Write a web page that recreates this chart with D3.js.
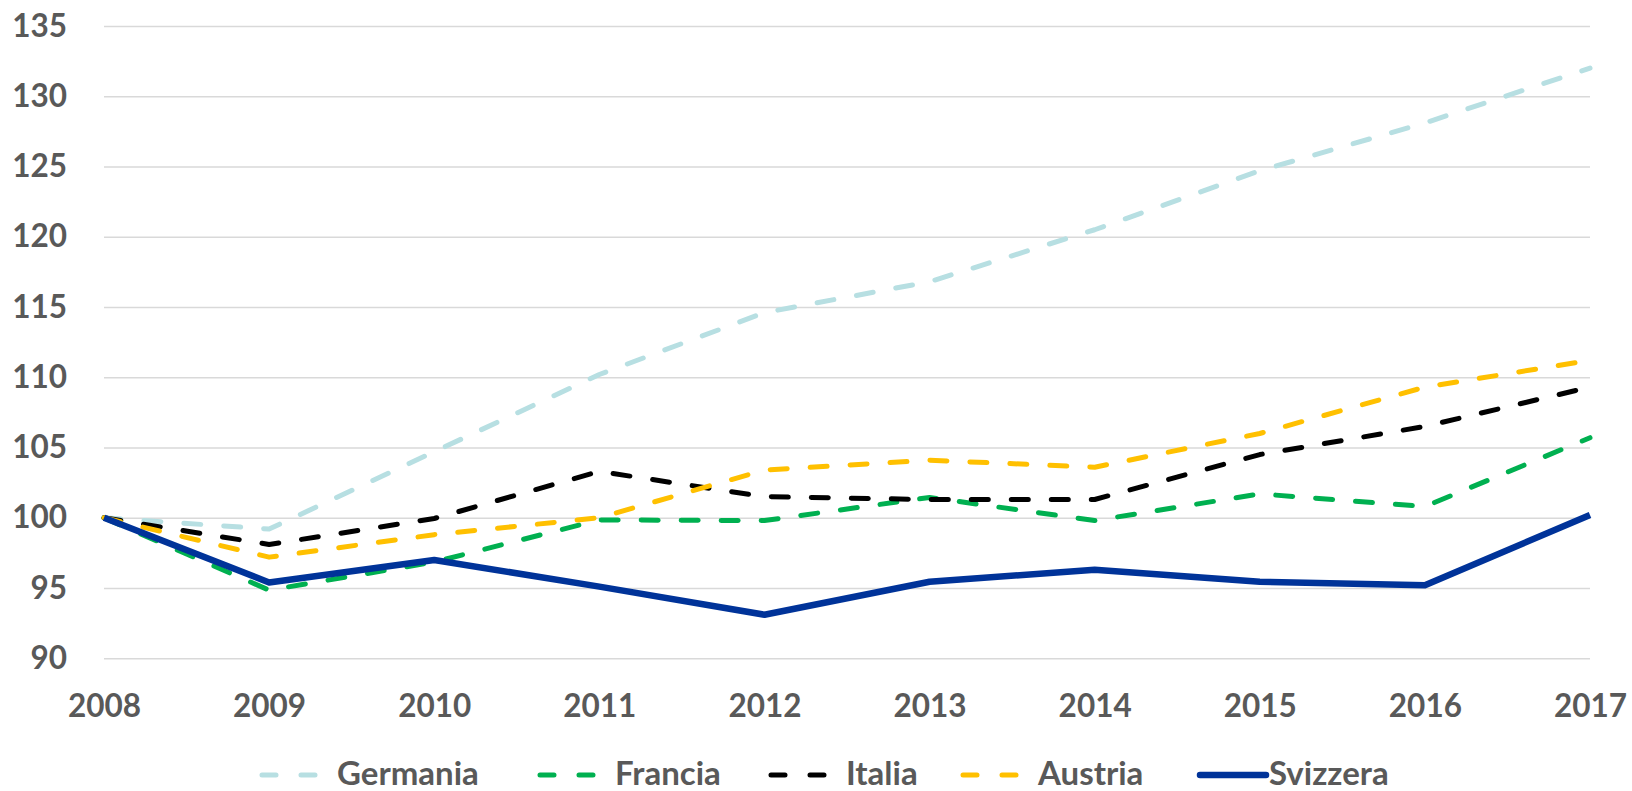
<!DOCTYPE html>
<html><head><meta charset="utf-8">
<script src="https://cdn.jsdelivr.net/npm/d3@7"></script>
<style>
html,body{margin:0;padding:0;background:#fff;}
svg{display:block;}
text{font-family:Lato,"Open Sans",sans-serif;font-weight:bold;fill:#595959;}
</style></head>
<body>
<svg id="chart" width="1632" height="791"></svg>
<script>
const years = [2008,2009,2010,2011,2012,2013,2014,2015,2016,2017];
const yTicks = [90,95,100,105,110,115,120,125,130,135];
const germania = [100, 99.2, 104.7, 110.2, 114.6, 116.8, 120.5, 124.7, 128.1, 132.0];
const francia  = [100, 94.85, 96.85, 99.85, 99.8, 101.45, 99.8, 101.7, 100.8, 105.7];
const italia   = [100, 98.1, 99.95, 103.3, 101.5, 101.3, 101.3, 104.5, 106.5, 109.3];
const austria  = [100, 97.2, 98.8, 100.0, 103.4, 104.1, 103.6, 106.0, 109.3, 111.2];
const svizzera = [100, 95.4, 97.0, 95.1, 93.1, 95.45, 96.3, 95.45, 95.2, 100.2];
const seriesNames = ["Germania","Francia","Italia","Austria","Svizzera"];
const seriesValues = [germania, francia, italia, austria, svizzera];
const seriesColors = ["#b7dfe2","#00b050","#000000","#ffc000","#003399"];
const seriesDashed = [true,true,true,true,false];

(function(){
const svg = d3.select("#chart");
const pLeft = 104, pRight = 1590, pTop = 26, pBottom = 658.3;
const x = d3.scaleLinear().domain([2008,2017]).range([pLeft,pRight]);
const y = d3.scaleLinear().domain([90,135]).range([pBottom,pTop]);

// y axis + gridlines
const ya = svg.append("g").attr("transform",`translate(${pLeft},0)`)
  .call(d3.axisLeft(y).tickValues(yTicks).tickSize(-(pRight-pLeft)).tickPadding(37));
ya.select(".domain").remove();
ya.selectAll(".tick line").attr("stroke","#d9d9d9").attr("stroke-width",1.5);
ya.selectAll(".tick text").attr("font-size",31.5).attr("fill","#595959")
  .attr("font-family","Lato").attr("font-weight","bold");

// x axis
const xa = svg.append("g").attr("transform",`translate(0,${pBottom})`)
  .call(d3.axisBottom(x).tickValues(years).tickFormat(d3.format("d")).tickSize(0));
xa.select(".domain").remove();
xa.selectAll(".tick text").attr("font-size",31.5).attr("fill","#595959")
  .attr("font-family","Lato").attr("font-weight","bold")
  .attr("dy",0).attr("y",59);

// lines
const line = d3.line().x((d,i)=>x(years[i])).y(d=>y(d));
seriesValues.forEach((vals,k)=>{
  svg.append("path").datum(vals)
    .attr("d",line)
    .attr("fill","none")
    .attr("stroke",seriesColors[k])
    .attr("stroke-width",seriesDashed[k]?5:6.5)
    .attr("stroke-linecap",seriesDashed[k]?"round":"butt")
    .attr("stroke-linejoin","round")
    .attr("stroke-dasharray",seriesDashed[k]?"17 23":null);
});

// legend
const legendX = [259, 537, 768, 960, 1200];
const legendY = 775;
const lg = svg.append("g");
seriesNames.forEach((name,k)=>{
  const g = lg.append("g").attr("transform",`translate(${legendX[k]},${legendY})`);
  if (seriesDashed[k]) {
    g.append("line").attr("x1",3).attr("x2",62).attr("y1",0).attr("y2",0)
      .attr("stroke",seriesColors[k]).attr("stroke-width",5)
      .attr("stroke-linecap","round").attr("stroke-dasharray","14 25");
  } else {
    g.append("line").attr("x1",0).attr("x2",66).attr("y1",0).attr("y2",0)
      .attr("stroke",seriesColors[k]).attr("stroke-width",6.5).attr("stroke-linecap","round");
  }
  g.append("text").attr("x",seriesDashed[k]?78:69).attr("y",10)
    .attr("font-size",33).attr("fill","#595959").text(name);
});
})();
</script>
</body></html>
